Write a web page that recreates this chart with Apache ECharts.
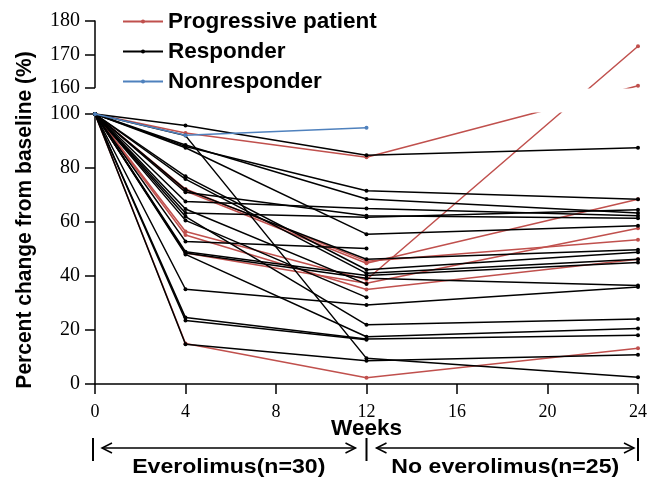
<!DOCTYPE html>
<html><head><meta charset="utf-8">
<script src="https://cdn.jsdelivr.net/npm/echarts@6/dist/echarts.min.js"></script>
<style>html,body{margin:0;padding:0;background:#fff}#c{width:650px;height:481px}</style>
</head><body><div id="c"></div>
<script>
// ---------- data ----------
const weeks = [0, 4, 12, 24];
const seriesNames = ['Progressive patient', 'Responder', 'Nonresponder'];
// percent of baseline at weeks 0, 4, 12, 24 (null = not followed)
const progressive = [
  [100, 93.0, 84.0, 160.5],
  [100, 72.2, 45.5, 53.4],
  [100, 71.5, 44.7, 68.4],
  [100, 56.5, 38.6, 172.4],
  [100, 55.2, 35.0, 46.2],
  [100, 48.5, 37.3, 57.7],
  [100, 15.0, 2.3, 13.2]
];
const responder = [
  [100, 95.7, 84.7, 87.5],
  [100, 92.0, 9.5, 2.5],
  [100, 88.0, 71.6, 68.4],
  [100, 88.5, 68.5, 63.3],
  [100, 87.5, 55.5, 58.6],
  [100, 76.9, 42.3, 48.8],
  [100, 75.9, 41.0, 46.2],
  [100, 72.0, 46.2, 49.7],
  [100, 71.0, 62.3, 61.4],
  [100, 67.6, 65.0, 62.3],
  [100, 64.8, 37.0, null],
  [100, 63.3, 61.8, 64.5],
  [100, 62.0, 21.9, 24.1],
  [100, 60.6, 32.1, null],
  [100, 52.8, 50.2, null],
  [100, 49.0, 40.2, 45.0],
  [100, 48.5, 39.2, 36.5],
  [100, 48.0, 17.5, 20.6],
  [100, 35.1, 29.3, 35.9],
  [100, 24.6, 16.7, 18.1],
  [100, 23.5, 16.4, null],
  [100, 14.7, 8.6, 10.8]
];
const nonresponder = [
  [100, 92.1, 94.9, null]
];
const lowerTicks = [0, 20, 40, 60, 80, 100];
const upperTicks = [160, 170, 180];
const weekTicks = [0, 4, 8, 12, 16, 20, 24];

// ---------- layout of the broken y axis ----------
const W = 650, H = 481;
const GRID_LEFT = 95, GRID_RIGHT = 10;
const LOW_TOP = 114, LOW_BOTTOM = 384;     // pixel rows of 100 and 0
const UP_TOP = 21, UP_BOTTOM = 87.5;       // pixel rows of 180 and 160
const lowMin = lowerTicks[0], lowMax = lowerTicks[lowerTicks.length - 1];
const upMin = upperTicks[0], upMax = upperTicks[upperTicks.length - 1];
const pxLow = (LOW_BOTTOM - LOW_TOP) / (lowMax - lowMin);
const pxUp = (UP_BOTTOM - UP_TOP) / (upMax - upMin);
// value on the broken scale expressed in lower-axis units
function brokenScale(v) {
  if (v == null) return null;
  if (v <= lowMax) return v;
  const gapUnits = (LOW_TOP - UP_BOTTOM) / pxLow;
  return lowMax + gapUnits + (v - upMin) * pxUp / pxLow;
}

const RED = '#c0504d', BLACK = '#000000', BLUE = '#4f81bd';
function makeSeries(rows, name, color, z) {
  return rows.map(r => ({
    type: 'line', name: name, xAxisIndex: 0, yAxisIndex: 0,
    data: weeks.map((w, i) => [w, brokenScale(r[i])]).filter(p => p[1] != null),
    clip: false, symbol: 'circle', symbolSize: 4, showSymbol: true,
    lineStyle: { color: color, width: 1.5 }, itemStyle: { color: color },
    z: z, animation: false, silent: true
  }));
}

const SANS = 'Liberation Sans';
const serifLabel = { color: '#000', fontFamily: 'Liberation Serif', fontSize: 20 };
const axisLineStyle = { color: '#000', width: 1.5 };

const chart = echarts.init(document.getElementById('c'), null, { renderer: 'canvas' });
chart.setOption({
  backgroundColor: '#fff',
  animation: false,
  legend: {
    data: seriesNames,
    orient: 'vertical', left: 122, top: 10, itemGap: 7, padding: 0,
    itemWidth: 40, itemHeight: 5,
    textStyle: { color: '#000', fontFamily: SANS, fontWeight: 'bold', fontSize: 22.5 },
    z: 6
  },
  grid: [
    { left: GRID_LEFT, right: GRID_RIGHT, top: LOW_TOP, bottom: H - LOW_BOTTOM },
    { left: GRID_LEFT, right: GRID_RIGHT, top: UP_TOP, bottom: H - UP_BOTTOM }
  ],
  xAxis: [
    { type: 'value', gridIndex: 0, min: weekTicks[0], max: weekTicks[weekTicks.length - 1], interval: 4,
      axisLine: { lineStyle: axisLineStyle }, axisTick: { length: 10, lineStyle: axisLineStyle },
      axisLabel: Object.assign({ margin: 19 }, serifLabel, { fontSize: 18 }), splitLine: { show: false },
      name: 'Weeks', nameLocation: 'middle', nameGap: 33, nameMoveOverlap: false,
      nameTextStyle: { color: '#000', fontFamily: SANS, fontWeight: 'bold', fontSize: 22.5 } },
    { type: 'value', gridIndex: 1, min: 0, max: 24, show: false }
  ],
  yAxis: [
    { type: 'value', gridIndex: 0, min: lowMin, max: lowMax, interval: 20,
      axisLine: { show: true, lineStyle: axisLineStyle }, axisTick: { show: true, length: 10, lineStyle: axisLineStyle },
      axisLabel: Object.assign({ margin: 15 }, serifLabel), splitLine: { show: false } },
    { type: 'value', gridIndex: 1, min: upMin, max: upMax, interval: 10,
      axisLine: { show: true, lineStyle: axisLineStyle }, axisTick: { show: true, length: 10, lineStyle: axisLineStyle },
      axisLabel: Object.assign({ margin: 15 }, serifLabel), splitLine: { show: false } }
  ],
  series: [].concat(
    makeSeries(progressive, seriesNames[0], RED, 2),
    makeSeries(responder, seriesNames[1], BLACK, 3),
    makeSeries(nonresponder, seriesNames[2], BLUE, 4)
  )
});

// ---------- annotations placed through the axis scale ----------
const p0 = chart.convertToPixel({ gridIndex: 0 }, [0, 0]);
const p12 = chart.convertToPixel({ gridIndex: 0 }, [12, 0]);
const p24 = chart.convertToPixel({ gridIndex: 0 }, [24, 0]);
const p100 = chart.convertToPixel({ gridIndex: 0 }, [0, lowMax]);
const p160 = chart.convertToPixel({ gridIndex: 1 }, [0, upMin]);
const boldFont = 'bold 21px "Liberation Sans"';
const lineStyle = { stroke: '#000', lineWidth: 1.5 };
const barY1 = 438, barY2 = 461, arrowY = 448;
function bar(x) { return { type: 'line', shape: { x1: x, y1: barY1, x2: x, y2: barY2 }, style: { stroke: '#000', lineWidth: 2 } }; }
function arrow(xa, xb) {
  return [
    { type: 'line', shape: { x1: xa, y1: arrowY, x2: xb, y2: arrowY }, style: lineStyle },
    { type: 'polyline', shape: { points: [[xa + 10, arrowY - 5], [xa, arrowY], [xa + 10, arrowY + 5]] }, style: Object.assign({ fill: null }, lineStyle) },
    { type: 'polyline', shape: { points: [[xb - 10, arrowY - 5], [xb, arrowY], [xb - 10, arrowY + 5]] }, style: Object.assign({ fill: null }, lineStyle) }
  ];
}
chart.setOption({
  graphic: [
    // white band that hides lines inside the axis break
    { type: 'rect', z: 5, silent: true,
      shape: { x: p0[0] + 2, y: p160[1] + 1, width: W - p0[0], height: p100[1] - p160[1] - 2.5 },
      style: { fill: '#fff' } },
    { type: 'text', z: 6, x: 25, y: 220, rotation: Math.PI / 2, scaleY: 1.08,
      style: { text: 'Percent change from baseline (%)', font: 'bold 21px "Liberation Sans"', fill: '#000', align: 'center', verticalAlign: 'middle' } },
    bar(p0[0] - 2), bar(p12[0]), bar(p24[0]),
    ...arrow(p0[0] + 7, p12[0] - 11),
    ...arrow(p12[0] + 10, p24[0] - 4),
    { type: 'text', x: (p0[0] + p12[0]) / 2 - 2, y: 467, scaleX: 1.1,
      style: { text: 'Everolimus(n=30)', font: boldFont, fill: '#000', align: 'center', verticalAlign: 'middle' } },
    { type: 'text', x: (p12[0] + p24[0]) / 2 + 3, y: 467, scaleX: 1.1,
      style: { text: 'No everolimus(n=25)', font: boldFont, fill: '#000', align: 'center', verticalAlign: 'middle' } }
  ]
});
</script>
</body></html>
